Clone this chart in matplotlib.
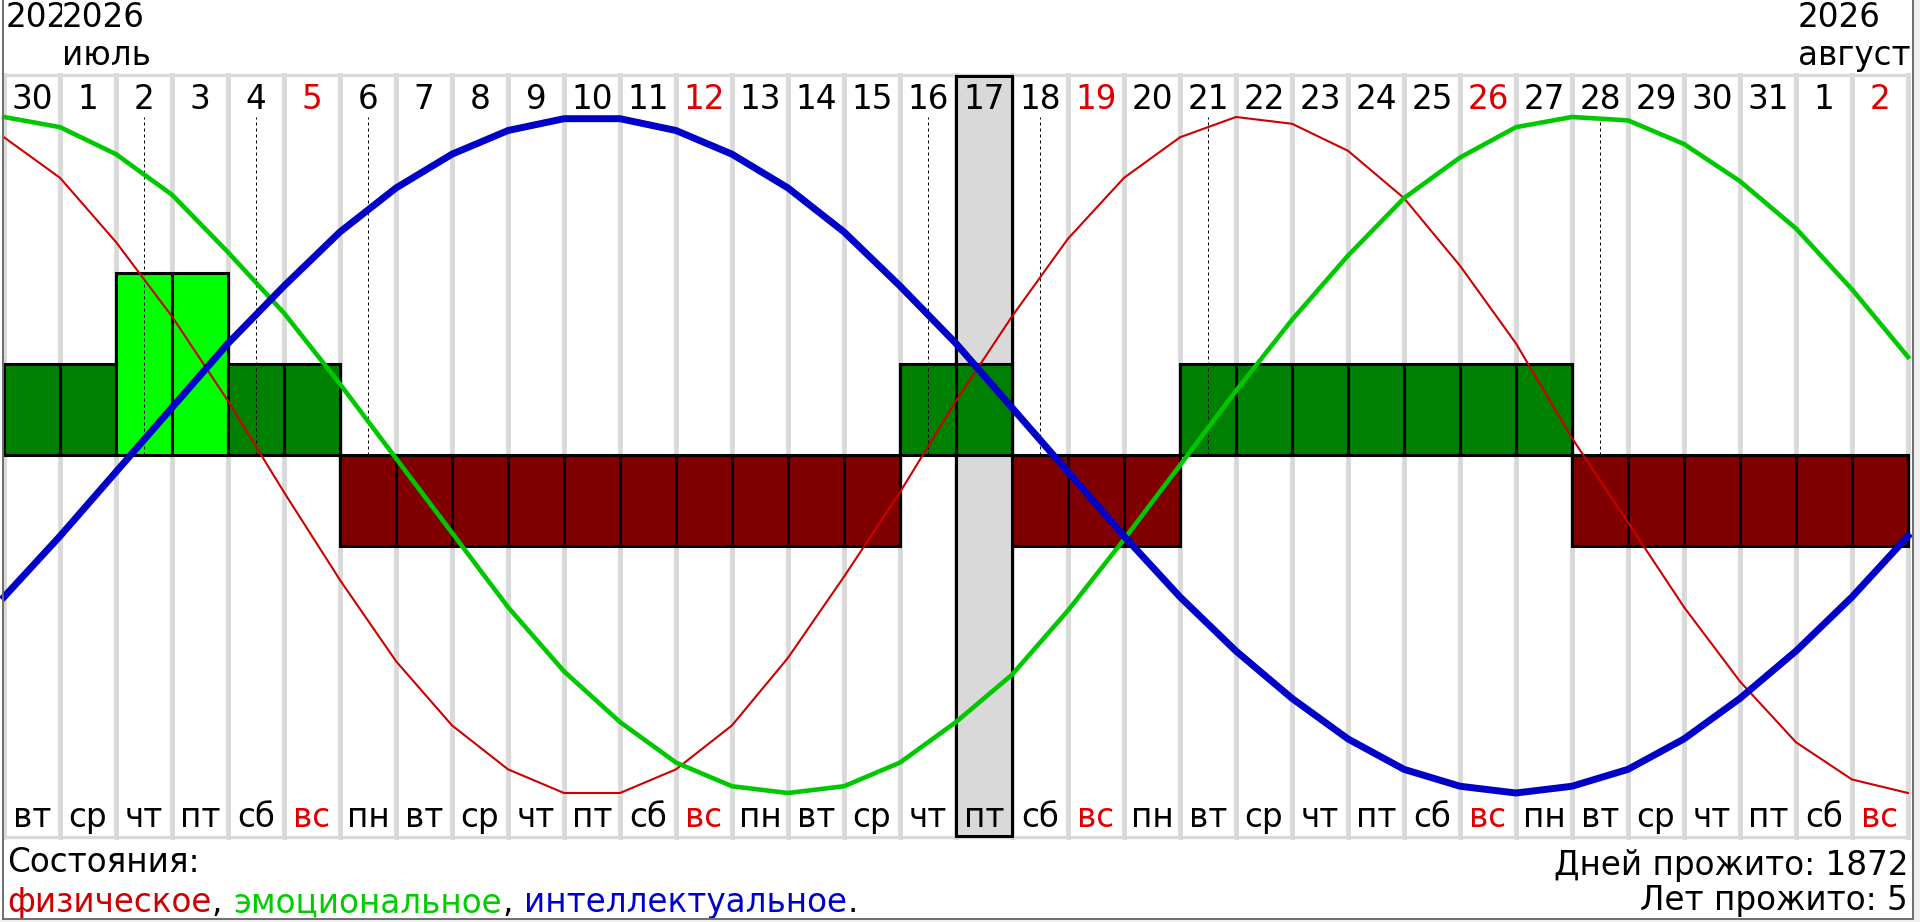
import matplotlib.pyplot as plt
from matplotlib.lines import Line2D
from matplotlib.patches import Rectangle

plt.rcParams['font.family'] = ['DejaVu Sans']

W, H = 1920, 922

# one column per day, 30 June .. 2 August 2026
days = [30, 1, 2, 3, 4, 5, 6, 7, 8, 9, 10, 11, 12, 13, 14, 15, 16, 17, 18, 19, 20,
        21, 22, 23, 24, 25, 26, 27, 28, 29, 30, 31, 1, 2]
weekdays = ['вт', 'ср', 'чт', 'пт', 'сб', 'вс', 'пн', 'вт', 'ср', 'чт', 'пт', 'сб',
            'вс', 'пн', 'вт', 'ср', 'чт', 'пт', 'сб', 'вс', 'пн', 'вт', 'ср', 'чт',
            'пт', 'сб', 'вс', 'пн', 'вт', 'ср', 'чт', 'пт', 'сб', 'вс']
# daily state bars
state = [1, 1, 2, 2, 1, 1, -1, -1, -1, -1, -1, -1, -1, -1, -1, -1, 1, 1, -1, -1, -1,
         1, 1, 1, 1, 1, 1, 1, -1, -1, -1, -1, -1, -1]
# curves, sampled on the column borders (35 points)
physical = [0.94, 0.82, 0.63, 0.41, 0.16, -0.11, -0.37, -0.61, -0.80, -0.93, -1.0,
            -1.0, -0.93, -0.80, -0.60, -0.36, -0.11, 0.16, 0.41, 0.64, 0.82, 0.94,
            1.0, 0.98, 0.90, 0.76, 0.56, 0.33, 0.05, -0.20, -0.45, -0.67, -0.85,
            -0.96, -1.0]
emotional = [1.0, 0.97, 0.89, 0.77, 0.60, 0.42, 0.21, -0.01, -0.23, -0.45, -0.64,
             -0.79, -0.91, -0.98, -1.0, -0.98, -0.91, -0.79, -0.65, -0.46, -0.25,
             -0.03, 0.19, 0.40, 0.59, 0.76, 0.88, 0.97, 1.0, 0.99, 0.92, 0.81, 0.67,
             0.49, 0.29]
intellectual = [-0.42, -0.24, -0.05, 0.14, 0.33, 0.50, 0.66, 0.79, 0.89, 0.96, 0.995,
                0.995, 0.96, 0.89, 0.79, 0.66, 0.50, 0.33, 0.14, -0.05, -0.24, -0.42,
                -0.58, -0.72, -0.84, -0.93, -0.98, -1.0, -0.98, -0.93, -0.84, -0.72,
                -0.58, -0.42, -0.24]
critical = [2, 4, 6, 16, 18, 21, 28]   # column indices
today = 17
months = [(0, '2026', ''), (1, '2026', 'июль'), (32, '2026', 'август')]
days_lived = 1872
years_lived = 5

bar_colors = {2: '#00ff00', 1: '#008000', -1: '#800000'}
FS = 23.5


def py(px):
    # pixel row -> axes fraction
    return 1 - px / H


fig = plt.figure(figsize=(19.2, 9.22), dpi=100)
ax = fig.add_axes([0, 0, 1, 1])
ax.set_xlim(-4 / 56, 1916 / 56)
ax.set_ylim(-(H - 455) / 91, 455 / 91)
ax.axis('off')
xt = ax.get_xaxis_transform()

# grid of grey column borders
for k in range(len(days) + 1):
    ax.axvline(k, ymin=py(837), ymax=py(75), color='#d9d9d9', lw=3.5, zorder=0)
for y in (75, 837):
    ax.plot([0, len(days)], [py(y)] * 2, transform=xt, color='#d9d9d9', lw=2.4, zorder=0)

# current day
ax.axvspan(today, today + 1, ymin=py(836), ymax=py(76), facecolor='#d9d9d9',
           edgecolor='none', zorder=1)

centers = [i + 0.5 for i in range(len(days))]
ax.bar(centers, state, width=1, color=[bar_colors[s] for s in state],
       edgecolor='black', linewidth=2.2, zorder=2)

ax2 = ax.twinx()
ax2.set_ylim(-(H - 455) / 338, 455 / 338)
ax2.axis('off')
ax2.vlines([c + 0.5 for c in critical], 0, 1, colors='black', lw=0.72,
           linestyles=(0, (3, 3)), zorder=1)
ax2.axvspan(today, today + 1, ymin=py(836), ymax=py(76), fill=False,
            edgecolor='black', lw=2.2, zorder=1.5)

bx = list(range(len(days) + 1))
ax2.plot(bx, physical, color='#cc0000', lw=1.5, zorder=3)
ax2.plot(bx, emotional, color='#00c800', lw=3.3, zorder=3)
ax2.plot(bx, intellectual, color='#0000c8', lw=5, zorder=3)

# header: year / month
for col, year, month in months:
    ax.text(col + 0.03, py(27), year, transform=xt, ha='left', va='baseline',
            fontsize=FS, bbox=dict(facecolor='white', edgecolor='none', pad=0))
    if month:
        ax.text(col + 0.03, py(65), month, transform=xt, ha='left', va='baseline',
                fontsize=FS)

for i, (d, wd) in enumerate(zip(days, weekdays)):
    c = '#dd0000' if wd == 'вс' else 'black'
    ax.text(i + 0.5, py(109), str(d), transform=xt, ha='center', va='baseline',
            fontsize=FS, color=c, zorder=4)
    ax.text(i + 0.5, py(827), wd, transform=xt, ha='center', va='baseline',
            fontsize=FS, color=c, zorder=4)

# footer
ax.text(0.05, py(872), 'Состояния:', transform=xt, ha='left', va='baseline', fontsize=FS)
pieces = [('физическое', '#cc0000', 0), (',', 'black', 0), ('эмоциональное', '#00cc00', 8.5),
          (',', 'black', 0), ('интеллектуальное', '#0000cc', 8.5), ('.', 'black', 0)]
prev = ax.text(0.05, py(912), pieces[0][0], transform=xt, ha='left', va='baseline',
               fontsize=FS, color=pieces[0][1])
for s, c, gap in pieces[1:]:
    prev = ax.annotate(s, xy=(1, py(912)), xycoords=(prev, 'axes fraction'),
                       xytext=(gap, 0), textcoords='offset points',
                       ha='left', va='baseline', fontsize=FS, color=c)
ax.text(len(days), py(875), f'Дней прожито: {days_lived}', transform=xt, ha='right',
        va='baseline', fontsize=FS)
ax.text(len(days), py(910), f'Лет прожито: {years_lived}', transform=xt, ha='right',
        va='baseline', fontsize=FS)

# window frame
fig.add_artist(Rectangle((0, 0), 1, 3 / H, color='#f0f0f0', lw=0))
fig.add_artist(Rectangle((1913 / W, 0), 7 / W, 1, color='#f0f0f0', lw=0))
fig.add_artist(Line2D([2.5 / W] * 2, [py(919), 1], color='#6e6e6e', lw=1.4))
fig.add_artist(Line2D([1912.5 / W] * 2, [py(919), 1], color='#6e6e6e', lw=1.4))
fig.add_artist(Line2D([2.5 / W, 1912.5 / W], [py(919)] * 2, color='#6e6e6e', lw=1.4))

plt.savefig('out.png', dpi=100)
